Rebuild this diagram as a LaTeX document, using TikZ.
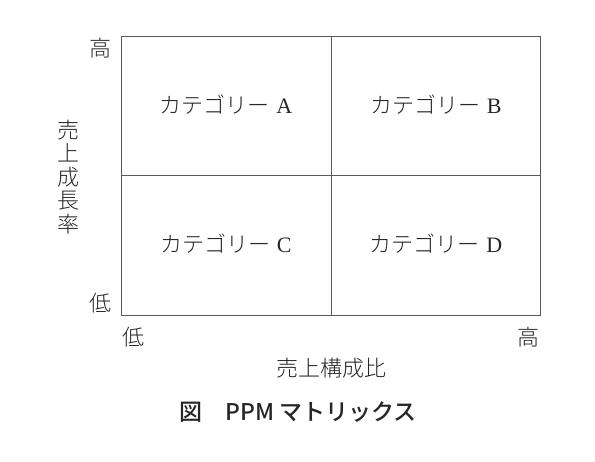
\documentclass[tikz,border=0pt]{standalone}
\usepackage{fontspec}
\newfontfamily\cjk{Noto Sans CJK JP Light}
\newfontfamily\lat{Liberation Serif}
\newfontfamily\cjkb{Noto Sans CJK JP Medium}
\begin{document}
\begin{tikzpicture}[x=1pt,y=-1pt,
  gridline/.style={draw=black!65, line width=0.9pt},
  cat/.style={font=\cjk\fontsize{22}{24}\selectfont, text=black!85, inner sep=0pt},
  axl/.style={font=\cjk\fontsize{22}{24}\selectfont, text=black!85, inner sep=0pt}]
\useasboundingbox (0,0) rectangle (595,462);
\draw[gridline] (121,36) rectangle (540,315);
\draw[gridline] (331,36) -- (331,315);
\draw[gridline] (121,175) -- (540,175);
\node[cat] (ca) at (226,105) {カテゴリー\hspace{0.3em}{\lat\fontsize{22}{24}\selectfont A}};
\node[cat] (cb) at (436,105) {カテゴリー\hspace{0.3em}{\lat\fontsize{22}{24}\selectfont B}};
\node[cat] (cc) at (226,244) {カテゴリー\hspace{0.3em}{\lat\fontsize{22}{24}\selectfont C}};
\node[cat] (cd) at (436,244) {カテゴリー\hspace{0.3em}{\lat\fontsize{22}{24}\selectfont D}};
\node[axl] (yh) at (100,48) {高};
\node[axl] (yl) at (100,303) {低};
\node[axl] (xl) at (133,337) {低};
\node[axl] (xh) at (528,337) {高};
\node[axl, align=center, font=\cjk\fontsize{22}{23.5}\selectfont] (ylab) at (68,177) {売\\上\\成\\長\\率};
\node[axl] (xlab) at (331,368) {売上構成比};
\node[font=\cjkb\fontsize{23}{24}\selectfont, text=black!85, inner sep=0pt] (cap) at (298,412) {図\hspace{1em}PPM マトリックス};
\end{tikzpicture}
\end{document}
